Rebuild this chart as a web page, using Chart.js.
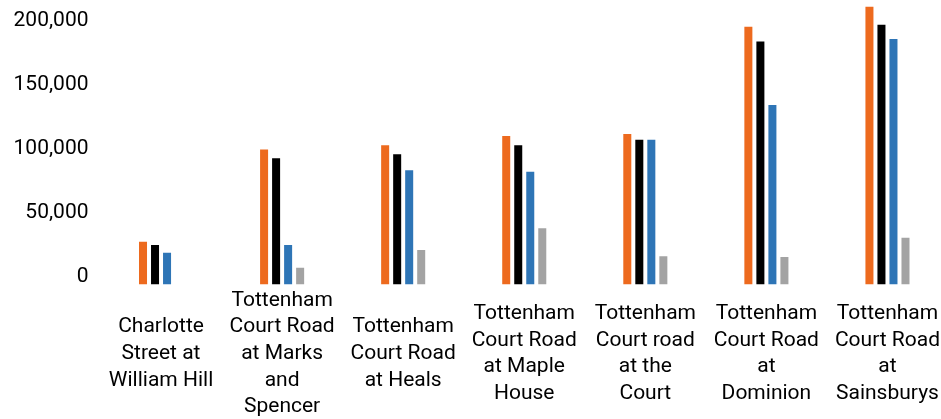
<!DOCTYPE html>
<html>
<head>
<meta charset="utf-8">
<script src="https://cdn.jsdelivr.net/npm/chart.js@4/dist/chart.umd.min.js"></script>
<style>
    html, body { margin: 0; padding: 0; background: #fff; overflow: hidden; }
    #wrap { width: 941px; height: 419px; overflow: hidden; }
    #box { width: 948px; height: 419px; position: relative; }
</style>
</head>
<body>
<div id="wrap"><div id="box"><canvas id="barChart"></canvas></div></div>
<script>
const sites = [
    ['Charlotte', 'Street at', 'William Hill'],
    ['Tottenham', 'Court Road', 'at Marks', 'and', 'Spencer'],
    ['Tottenham', 'Court Road', 'at Heals'],
    ['Tottenham', 'Court Road', 'at Maple', 'House'],
    ['Tottenham', 'Court road', 'at the', 'Court'],
    ['Tottenham', 'Court Road', 'at', 'Dominion'],
    ['Tottenham', 'Court Road', 'at', 'Sainsburys']
];
const seriesOrange = [33400, 105600, 108800, 116000, 117600, 201400, 217000];
const seriesBlack = [30900, 98600, 101700, 108800, 113100, 190000, 203000];
const seriesBlue = [24800, 30900, 89200, 88100, 113100, 140200, 191800];
const seriesGrey = [0, 13100, 27000, 43900, 22000, 21500, 36600];
const yTicks = [0, 50000, 100000, 150000, 200000];

const fontFamily = 'Roboto, "Liberation Sans", sans-serif';

function makeSet(label, data, color) {
    return {
        label: label,
        data: data,
        backgroundColor: color,
        borderWidth: 0,
        categoryPercentage: 0.397,
        barPercentage: 0.667
    };
}

const ctx = document.getElementById('barChart').getContext('2d');
new Chart(ctx, {
    type: 'bar',
    data: {
        labels: sites,
        datasets: [
            makeSet('Series 1', seriesOrange, '#ED6A1E'),
            makeSet('Series 2', seriesBlack, '#000000'),
            makeSet('Series 3', seriesBlue, '#2E75B6'),
            makeSet('Series 4', seriesGrey, '#A3A3A3')
        ]
    },
    options: {
        responsive: true,
        maintainAspectRatio: false,
        animation: false,
        layout: { padding: { top: 3, left: 0, right: 0, bottom: 0 } },
        plugins: {
            legend: { display: false },
            tooltip: { enabled: false }
        },
        scales: {
            x: {
                grid: { display: false, drawTicks: false },
                border: { display: false },
                ticks: {
                    color: '#000',
                    maxRotation: 0,
                    autoSkip: false,
                    crossAlign: 'center',
                    padding: 16,
                    font: { family: fontFamily, size: 21, lineHeight: 1.27 }
                },
                afterFit: (scale) => {
                    scale.height = 134.5;
                    scale.paddingLeft = 0;
                    scale.paddingRight = 0;
                }
            },
            y: {
                min: 0,
                max: 220000,
                grid: { display: false, drawTicks: false },
                border: { display: false },
                afterBuildTicks: (scale) => {
                    scale.ticks = yTicks.map(v => ({ value: v }));
                },
                ticks: {
                    color: '#000',
                    padding: 12,
                    labelOffset: -8,
                    font: { family: fontFamily, size: 21 },
                    callback: (v) => v.toLocaleString('en-US')
                },
                afterFit: (scale) => {
                    scale.width = 100.5;
                    scale.paddingTop = 0;
                    scale.paddingBottom = 0;
                }
            }
        }
    }
});
</script>
</body>
</html>
